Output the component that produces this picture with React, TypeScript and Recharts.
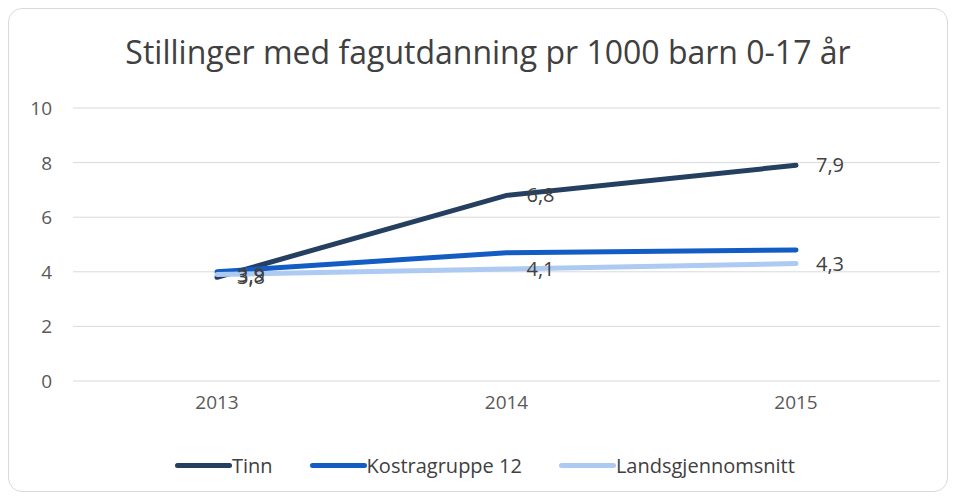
import { CartesianGrid, LabelList, Line, LineChart, XAxis, YAxis } from "recharts";

const years = ["2013", "2014", "2015"];
const tinn = [3.8, 6.8, 7.9];
const kostra = [4.0, 4.7, 4.8];
const lands = [3.9, 4.1, 4.3];
const yTicks = [0, 2, 4, 6, 8, 10];

const series = [
  { key: "tinn", name: "Tinn", color: "#243F60", labels: true },
  { key: "kostra", name: "Kostragruppe 12", color: "#135CC4", labels: false },
  { key: "lands", name: "Landsgjennomsnitt", color: "#ADCAF2", labels: true },
];

const data = years.map((year, i) => ({ year, tinn: tinn[i], kostra: kostra[i], lands: lands[i] }));

const font = "'Open Sans', 'Liberation Sans', sans-serif";

const comma = (v: any) => String(v).replace(".", ",");

const XTick = ({ x, y, payload }: any) => (
  <text x={x} y={y + 6} textAnchor="middle" fill="#595959" fontSize={19} fontFamily={font}>
    {payload.value}
  </text>
);

const YTick = ({ x, y, payload }: any) => (
  <text x={x} y={y + 7} textAnchor="end" fill="#595959" fontSize={19} fontFamily={font}>
    {payload.value}
  </text>
);

export default function App() {
  return (
    <div
      style={{
        position: "relative",
        width: 938,
        height: 482,
        border: "1px solid #d9d9d9",
        borderRadius: 14,
        background: "#fff",
        fontFamily: font,
      }}
    >
      <div style={{ position: "absolute", left: 0, top: 21, width: 958, textAlign: "center", fontSize: 32, color: "#404040" }}>
        Stillinger med fagutdanning pr 1000 barn 0-17 år
      </div>
      <LineChart width={938} height={482} data={data} margin={{ top: 99, right: 7, bottom: 80, left: 0 }}>
        <CartesianGrid stroke="#d9d9d9" vertical={false} />
        <XAxis dataKey="year" axisLine={false} tickLine={false} tick={<XTick />} tickMargin={16} padding={{ left: 144, right: 144 }} />
        <YAxis domain={[0, 10]} ticks={yTicks} width={64} axisLine={false} tickLine={false} tick={<YTick />} tickMargin={15} />
        {series.map((s) => (
          <Line
            key={s.key}
            dataKey={s.key}
            name={s.name}
            stroke={s.color}
            strokeWidth={5}
            strokeLinecap="round"
            dot={false}
            type="linear"
            isAnimationActive={false}
          >
            {s.labels && (
              <LabelList
                dataKey={s.key}
                position="right"
                offset={20}
                formatter={comma}
                style={{ fill: "#404040", fontSize: 20, fontFamily: font }}
              />
            )}
          </Line>
        ))}
      </LineChart>
      <div style={{ position: "absolute", left: 166, top: 443, display: "flex", alignItems: "center", fontSize: 20, color: "#404040" }}>
        {series.map((s, i) => (
          <div key={s.key} style={{ display: "flex", alignItems: "center", marginLeft: i === 0 ? 0 : 37 }}>
            <span style={{ display: "inline-block", width: 57, height: 5, borderRadius: 3, background: s.color }} />
            <span>{s.name}</span>
          </div>
        ))}
      </div>
    </div>
  );
}
